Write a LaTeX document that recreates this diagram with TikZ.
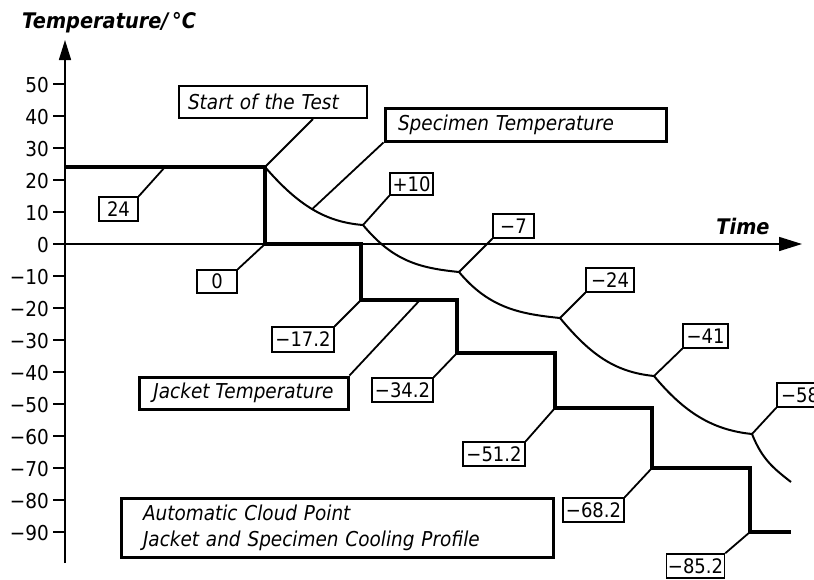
\documentclass[tikz,border=0pt]{standalone}
\usepackage{fontspec}
\setmainfont{DejaVu Sans}[FakeStretch=0.9]
\usetikzlibrary{arrows.meta}
\begin{document}
\begin{tikzpicture}[x=1pt,y=-1pt,
  axisline/.style={line width=1.6pt},
  jacket/.style={line width=3.6pt,line join=miter},
  specimen/.style={line width=2pt},
  leader/.style={line width=1.8pt},
  ticklab/.style={inner sep=0pt,anchor=east,font=\fontsize{20.5}{20.5}\selectfont},
  valbox/.style={draw,line width=1.5pt,inner sep=0pt,minimum height=24pt,font=\fontsize{20}{20}\selectfont},
  callout/.style={draw,line width=3pt,inner sep=0pt,font=\fontsize{20.5}{20.5}\selectfont\itshape},
  axistitle/.style={inner sep=0pt,font=\fontsize{21.5}{21.5}\selectfont\bfseries\itshape}]
\useasboundingbox (0,0) rectangle (814,579);
\fill[white] (0,0) rectangle (814,579);
% axes
\coordinate (ybot) at (65,563);
\coordinate (ytop) at (65,40);
\coordinate (xorg) at (65,244);
\coordinate (xend) at (802,244);
\draw[axisline,-{Triangle[length=20pt,width=12pt]}] (ybot) -- (ytop);
\draw[axisline,-{Triangle[length=23pt,width=14pt]}] (xorg) -- (xend);
\foreach \v/\t in {50/50,40/40,30/30,20/20,10/10,0/0,-10/−10,-20/−20,-30/−30,-40/−40,-50/−50,-60/−60,-70/−70,-80/−80,-90/−90}{
  \coordinate (tk\v) at (65,{244-\v*3.197});
  \draw[axisline] (tk\v) -- ++(-12,0);
  \node[ticklab] (tl\v) at ([xshift=-16pt,yshift=-1pt]tk\v) {\t};
}
\node[axistitle,anchor=base west] (ytitle) at (22,28) {Temperature/\,°C};
\node[axistitle] (xtitle) at (743,226) {Time};
% jacket profile
\coordinate (J0) at (65,167);
\coordinate (J1) at (265,167);
\coordinate (J2) at (265,244);
\coordinate (J3) at (361,244);
\coordinate (J4) at (361,300);
\coordinate (J5) at (457,300);
\coordinate (J6) at (457,353);
\coordinate (J7) at (555,353);
\coordinate (J8) at (555,408);
\coordinate (J9) at (652,408);
\coordinate (J10) at (652,468);
\coordinate (J11) at (750,468);
\coordinate (J12) at (750,532);
\coordinate (J13) at (791,532);
\draw[jacket] (J0) -- (J1) -- (J2) -- (J3) -- (J4) -- (J5) -- (J6) -- (J7) -- (J8) -- (J9) -- (J10) -- (J11) -- (J12) -- (J13);
\coordinate (c24) at (165,167);
\coordinate (cjt) at (420,300);
% specimen curve
\coordinate (P0) at (265,167);
\coordinate (P1) at (363,225);
\coordinate (P2) at (459,272);
\coordinate (P3) at (560,318);
\coordinate (P4) at (654,376);
\coordinate (P5) at (752,434);
\coordinate (P6) at (791,482);
\draw[specimen] (P0) .. controls +(33,38) and +(-38,-3) .. coordinate[pos=0.5] (csp) (P1)
  .. controls +(30,36) and +(-40,-4) .. (P2)
  .. controls +(30,36) and +(-40,-4) .. (P3)
  .. controls +(30,36) and +(-40,-4) .. (P4)
  .. controls +(30,36) and +(-40,-4) .. (P5)
  .. controls +(10,25) and +(-18,-14) .. (P6);
% callouts
\node[callout,draw,line width=2pt,minimum width=188pt,minimum height=32pt,text width=170pt,align=left] (start) at (273,102) {Start of the Test};
\draw[leader] ([xshift=40pt]start.south) -- (P0);
\node[callout,minimum width=281pt,minimum height=33pt,text width=255pt,align=left] (spec) at (525.5,124.5) {Specimen Temperature};
\draw[leader] (spec.south west) -- (csp);
\node[callout,minimum width=209pt,minimum height=32pt] (jt) at (243.5,393) {Jacket Temperature};
\draw[leader] (jt.north east) -- (cjt);
\node[callout,minimum width=432pt,minimum height=59pt,text width=388pt,align=left,font=\fontsize{20.5}{26}\selectfont\itshape] (title) at (337,527.5) {Automatic Cloud Point\\Jacket and Specimen Cooling Profile};
% value boxes
\node[valbox,minimum width=39pt] (l24) at (118.5,209) {24};
\draw[leader] (l24.north east) -- (c24);
\node[valbox,minimum width=40pt,minimum height=23pt] (l0) at (217,281.5) {0};
\draw[leader] (l0.north east) -- (J2);
\node[valbox,minimum width=43pt,minimum height=22pt] (lp10) at (411.5,184) {+10};
\draw[leader] (lp10.south west) -- (P1);
\node[valbox,minimum width=41pt] (lm7) at (513.5,226) {−7};
\draw[leader] (lm7.south west) -- (P2);
\node[valbox,minimum width=48pt] (lm24) at (610,280) {−24};
\draw[leader] (lm24.south west) -- (P3);
\node[valbox,minimum width=45pt] (lm41) at (705.5,336) {−41};
\draw[leader] (lm41.south west) -- (P4);
\node[valbox,minimum width=46pt] (lm58) at (800,395) {−58};
\draw[leader] (lm58.south west) -- (P5);
\node[valbox,minimum width=62pt,minimum height=25pt] (lm172) at (303,339.5) {−17.2};
\draw[leader] (lm172.north east) -- (J4);
\node[valbox,minimum width=61pt] (lm342) at (402.5,390) {−34.2};
\draw[leader] (lm342.north east) -- (J6);
\node[valbox,minimum width=62pt] (lm512) at (494,454) {−51.2};
\draw[leader] (lm512.north east) -- (J8);
\node[valbox,minimum width=61pt] (lm682) at (593.5,510) {−68.2};
\draw[leader] (lm682.north east) -- (J10);
\node[valbox,minimum width=58pt] (lm852) at (695.5,566) {−85.2};
\draw[leader] (lm852.north east) -- (J12);
\end{tikzpicture}
\end{document}
